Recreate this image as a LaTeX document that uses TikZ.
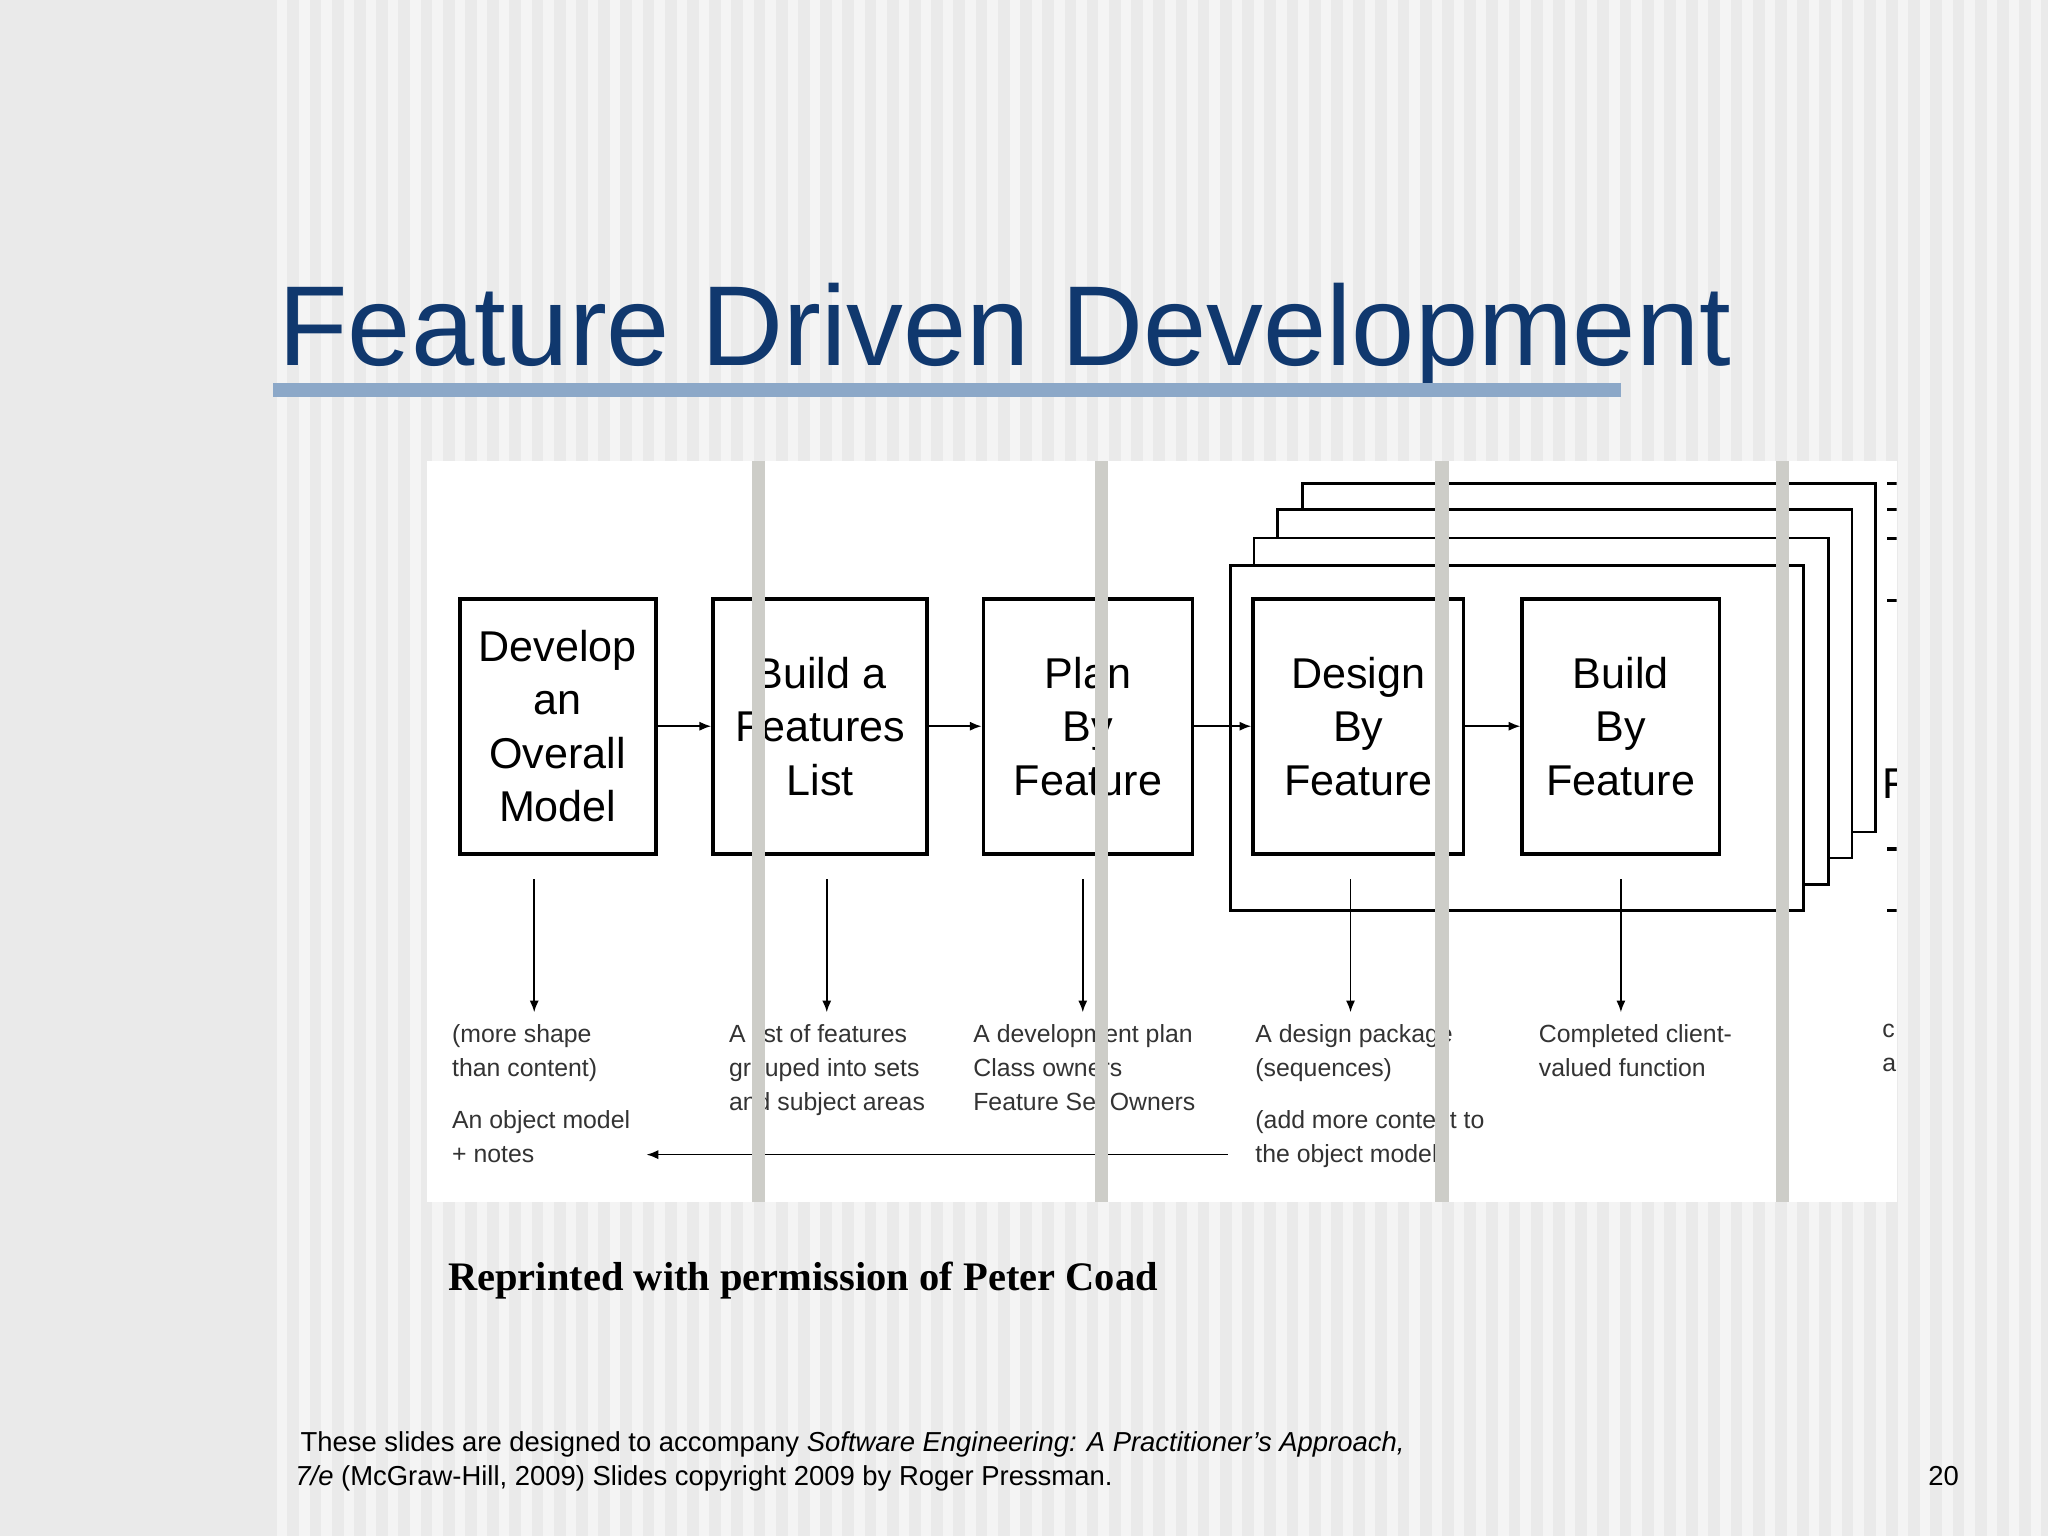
\documentclass[tikz,border=0pt]{standalone}
\usepackage{fontspec}
\setmainfont{Liberation Sans}
\newfontfamily\capfont{Liberation Serif}
\usetikzlibrary{arrows.meta}
\definecolor{bgg}{RGB}{234,234,234}
\definecolor{ttl}{RGB}{16,56,110}
\definecolor{ulin}{RGB}{140,168,200}
\definecolor{barg}{RGB}{205,205,200}
\begin{document}
\begin{tikzpicture}[x=1pt,y=-1pt,
  proc/.style={draw,line width=3pt,minimum width=150pt,minimum height=195pt,align=center,font=\fontsize{33}{41}\selectfont,inner sep=0pt},
  note/.style={align=left,anchor=north west,font=\fontsize{19}{26}\selectfont,inner sep=0pt,text=black!80},
  arr/.style={-{Latex[length=9pt,width=7pt]},line width=1.2pt},
  frame/.style={draw,line width=2pt,fill=white}]
\useasboundingbox (0,0) rectangle (1568,1176);
\fill[bgg] (0,0) rectangle (1568,1176);
\foreach \i in {0,...,80}{\fill[white,opacity=0.5] (212+\i*17,0) rectangle (220+\i*17,1176);}
% title
\node[anchor=base west,inner sep=0pt,text=ttl,font=\fontsize{87}{87}\selectfont] (title) at (213,280) {Feature Driven Development};
\fill[ulin] (209,293) rectangle (1241,304);
% diagram panel
\fill[white] (327,353) rectangle (1452,920);
\begin{scope}
\clip (327,353) rectangle (1452,920);
\draw[frame] (997,370) rectangle (1436,637);
\draw[frame] (978,390) rectangle (1418,657);
\draw[frame] (960,412) rectangle (1400,677);
\draw[frame] (942,433) rectangle (1381,697);
\foreach \y in {370,390,412,460,650,697}{\draw[line width=2.5pt] (1445,\y)--(1455,\y);}
\node[font=\fontsize{33}{41}\selectfont,anchor=west,inner sep=0pt] (fcut) at (1441,600) {F};
\node[note] (ncut) at (1441,784) {c\\al};
\end{scope}
\node[proc] (b1) at (427,556) {Develop\\an\\Overall\\Model};
\node[proc,minimum width=164pt] (b2) at (628,556) {Build a\\Features\\List};
\node[proc,minimum width=160pt] (b3) at (833,556) {Plan\\By\\Feature};
\node[proc,minimum width=161pt] (b4) at (1040,556) {Design\\By\\Feature};
\node[proc,minimum width=151pt] (b5) at (1241,556) {Build\\By\\Feature};
\draw[arr] (b1.east) -- (b2.west);
\draw[arr] (b2.east) -- (b3.west);
\draw[arr] (b3.east) -- (b4.west);
\draw[arr] (b4.east) -- (b5.west);
\foreach \b/\x in {b1/409,b2/633,b3/829,b4/1034,b5/1241}{
  \coordinate (\b s) at (\x,673); \coordinate (\b e) at (\x,775);
  \draw[arr] (\b s) -- (\b e);}
\node[note] (t1) at (346,784) {(more shape\\than content)};
\node[note] (t1b) at (346,850) {An object model\\+ notes};
\node[note] (t2) at (558,784) {A list of features\\grouped into sets\\and subject areas};
\node[note] (t3) at (745,784) {A development plan\\Class owners\\Feature Set Owners};
\node[note] (t4) at (961,784) {A design package\\(sequences)};
\node[note] (t4b) at (961,850) {(add more content to\\the object model)};
\node[note] (t5) at (1178,784) {Completed client-\\valued function};
\coordinate (bs) at (940,884); \coordinate (be) at (495,884);
\draw[arr] (bs) -- (be);
% grey overlay bars
\foreach \x in {581,843,1104,1365}{\fill[barg] (\x-5,353) rectangle (\x+5,920);}
% captions
\node[anchor=base west,inner sep=0pt,font=\capfont\bfseries\fontsize{31}{31}\selectfont] (cap) at (343,988) {Reprinted with permission of Peter Coad};
\node[anchor=base west,inner sep=0pt,font=\fontsize{21}{26}\selectfont] (f1) at (230,1111) {These slides are designed to accompany \textit{Software Engineering: A Practitioner’s Approach,}};
\node[anchor=base west,inner sep=0pt,font=\fontsize{21}{26}\selectfont] (f2) at (226,1137) {\textit{7/e} (McGraw-Hill, 2009) Slides copyright 2009 by Roger Pressman.};
\node[anchor=base east,inner sep=0pt,font=\fontsize{21}{26}\selectfont] (pg) at (1500,1137) {20};
\end{tikzpicture}
\end{document}
